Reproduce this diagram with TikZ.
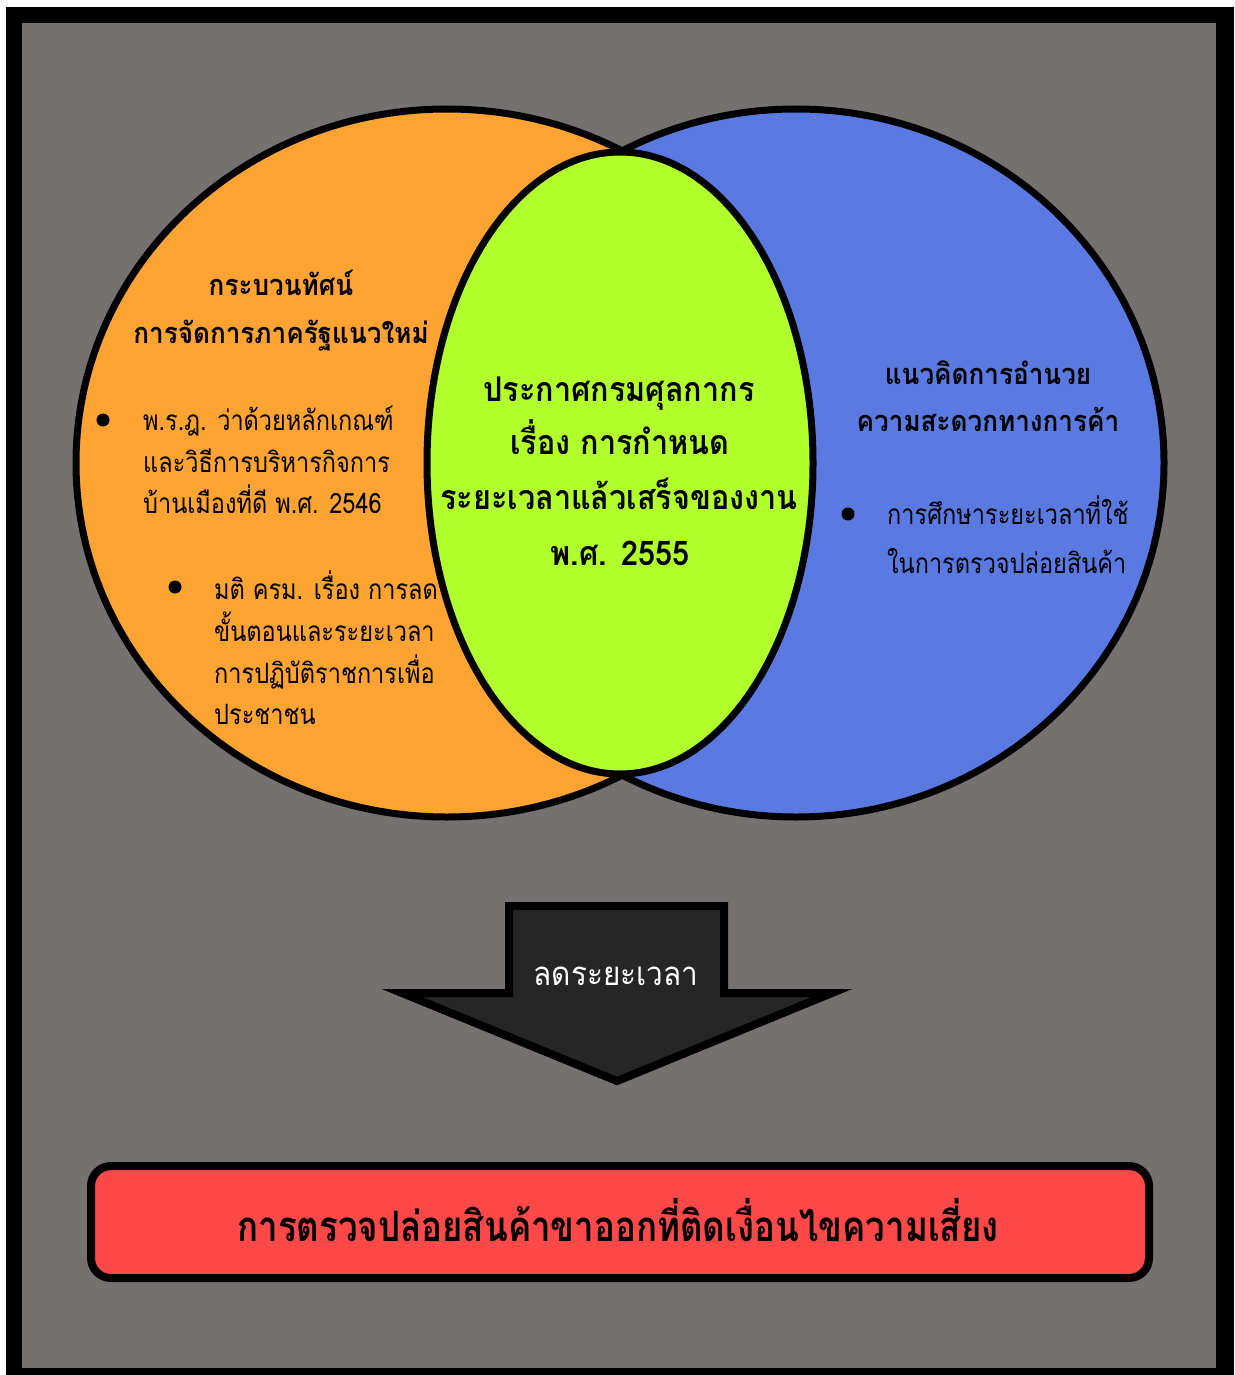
\documentclass[tikz,border=0pt]{standalone}
\usepackage{fontspec}
\newfontfamily\thaifont[Script=Thai]{Loma}
\newfontfamily\thaihead[Script=Thai,FakeStretch=0.9]{Loma}
\newfontfamily\thaibody[Script=Thai,FakeStretch=0.84]{Loma}
\newfontfamily\thaibottom[Script=Thai,FakeStretch=0.83]{Loma}
\definecolor{bggray}{HTML}{767171}
\definecolor{vorange}{HTML}{FFA333}
\definecolor{vgreen}{HTML}{B2FF2E}
\definecolor{vblue}{HTML}{5A7AE2}
\definecolor{vred}{HTML}{FF4848}
\definecolor{arrowfill}{HTML}{262626}
\tikzset{
  venn/.style={draw=black, line width=7pt},
  head/.style={font=\thaihead\bfseries\fontsize{29}{33}\selectfont, anchor=mid, inner sep=0pt},
  bodyline/.style={font=\thaibody\fontsize{28}{32}\selectfont, anchor=mid west, inner sep=0pt},
  centline/.style={font=\thaihead\bfseries\fontsize{34}{38}\selectfont, anchor=mid, inner sep=0pt},
  bulletdot/.style={circle, fill=black, minimum size=13pt, inner sep=0pt},
}
\begin{document}
\begin{tikzpicture}[x=1pt,y=-1pt]
\useasboundingbox (0,0) rectangle (1234,1375);
\fill[white] (0,0) rectangle (1234,1375);
\fill[black] (6,7) rectangle (1234,1375);
\fill[bggray] (22,23) rectangle (1216,1368);
% Venn
\draw[venn, fill=vorange] (447,463) ellipse [x radius=371pt, y radius=354pt];
\draw[venn, fill=vblue] (796,463) ellipse [x radius=368pt, y radius=354pt];
\draw[venn, fill=vgreen] (620,463) ellipse [x radius=193pt, y radius=311pt];
% left texts
\node[head] (lh1) at (281,293) {กระบวนทัศน์};
\node[head] (lh2) at (281,341) {การจัดการภาครัฐแนวใหม่};
\node[bulletdot] (b1) at (103,420) {};
\node[bodyline] (l11) at (143,428) {พ.ร.ฎ. ว่าด้วยหลักเกณฑ์};
\node[bodyline] (l12) at (143,470) {และวิธีการบริหารกิจการ};
\node[bodyline] (l13) at (143,511) {บ้านเมืองที่ดี พ.ศ. 2546};
\node[bulletdot] (b2) at (175,587) {};
\node[bodyline] (l21) at (214,597) {มติ ครม. เรื่อง การลด};
\node[bodyline] (l22) at (214,639) {ขั้นตอนและระยะเวลา};
\node[bodyline] (l23) at (214,681) {การปฏิบัติราชการเพื่อ};
\node[bodyline] (l24) at (214,722) {ประชาชน};
% center texts
\node[centline] (c1) at (619,399) {ประกาศกรมศุลกากร};
\node[centline] (c2) at (620,452) {เรื่อง การกำหนด};
\node[centline] (c3) at (619,507) {ระยะเวลาแล้วเสร็จของงาน};
\node[centline] (c4) at (620,563) {พ.ศ. 2555};
% right texts
\node[head] (rh1) at (988,382) {แนวคิดการอำนวย};
\node[head] (rh2) at (988,429) {ความสะดวกทางการค้า};
\node[bulletdot] (b3) at (848,514) {};
\node[bodyline] (r11) at (887,522) {การศึกษาระยะเวลาที่ใช้};
\node[bodyline] (r12) at (887,571) {ในการตรวจปล่อยสินค้า};
% arrow
\draw[line width=8pt, fill=arrowfill, line join=miter]
  (509,906) -- (724,906) -- (724,993) -- (832,993) -- (617,1081) -- (402,993) -- (509,993) -- cycle;
\node[font=\thaihead\fontsize{33}{37}\selectfont, text=white, anchor=mid, inner sep=0pt] (arr) at (616,983) {ลดระยะเวลา};
% bottom box
\draw[line width=8pt, fill=vred, rounded corners=20pt] (91,1166) rectangle (1149,1278);
\node[font=\thaibottom\bfseries\fontsize{42}{46}\selectfont, anchor=mid, inner sep=0pt] (res) at (618,1239) {การตรวจปล่อยสินค้าขาออกที่ติดเงื่อนไขความเสี่ยง};
\end{tikzpicture}
\end{document}
